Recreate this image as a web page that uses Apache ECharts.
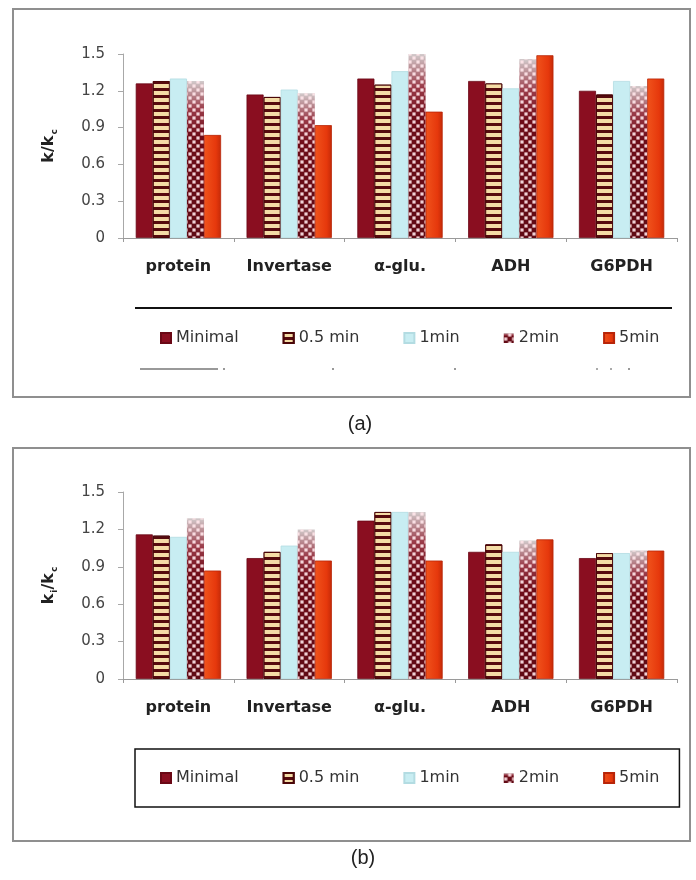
<!DOCTYPE html>
<html>
<head>
<meta charset="utf-8">
<script src="https://cdn.jsdelivr.net/npm/echarts@6/dist/echarts.min.js"></script>
<style>
  html, body { margin: 0; padding: 0; background: #fff; }
  #chart { width: 696px; height: 880px; }
</style>
</head>
<body>
<div id="chart"></div>
<script>
// Enzyme / protein categories and treatment times
const categories = ['protein', 'Invertase', 'α-glu.', 'ADH', 'G6PDH'];
const seriesNames = ['Minimal', '0.5 min', '1min', '2min', '5min'];

// Y axis scale shared by both panels
const yMin = 0;
const yMax = 1.5;
const yStep = 0.3;

// Panel (a): k/kc per category for each treatment
const aMinimal = [1.26, 1.17, 1.30, 1.28, 1.20];
const aHalfMin = [1.28, 1.15, 1.25, 1.26, 1.17];
const aOneMin  = [1.30, 1.21, 1.36, 1.22, 1.28];
const aTwoMin  = [1.28, 1.18, 1.50, 1.46, 1.24];
const aFiveMin = [0.84, 0.92, 1.03, 1.49, 1.30];

// Panel (b): ki/kc per category for each treatment
const bMinimal = [1.16, 0.97, 1.27, 1.02, 0.97];
const bHalfMin = [1.15, 1.02, 1.34, 1.08, 1.01];
const bOneMin  = [1.14, 1.07, 1.34, 1.02, 1.01];
const bTwoMin  = [1.29, 1.20, 1.34, 1.11, 1.03];
const bFiveMin = [0.87, 0.95, 0.95, 1.12, 1.03];

const chart = echarts.init(document.getElementById('chart'), null, { renderer: 'canvas' });
const G = echarts.graphic;

// Fill styles: solid maroon, striped, pale cyan, checkered with a faded top, orange-red
const barStyles = [
  { color: '#8a0e20', borderColor: '#6a0815', borderWidth: 0.8 },
  {
    color: '#560a0e', borderColor: '#4a0608', borderWidth: 1,
    decal: { symbol: 'rect', symbolSize: 1, color: '#f4dca6', dashArrayX: [8, 0], dashArrayY: [4, 3], rotation: 0 }
  },
  { color: '#c8edf2', borderColor: '#b3dce2', borderWidth: 0.8 },
  {
    color: new G.LinearGradient(0, 0, 0, 1, [
      { offset: 0, color: '#d2cbcc' },
      { offset: 0.18, color: '#9a3a48' },
      { offset: 0.35, color: '#6e0c18' },
      { offset: 1, color: '#600a14' }
    ]),
    decal: { symbol: 'rect', symbolSize: 0.8, color: 'rgba(255,230,234,0.9)', dashArrayX: [[4, 4], [0, 4, 4, 0]], dashArrayY: [4, 0] }
  },
  {
    color: new G.LinearGradient(0, 0, 1, 0, [
      { offset: 0, color: '#f0531c' },
      { offset: 0.7, color: '#e6380c' },
      { offset: 1, color: '#c42a08' }
    ]),
    borderColor: '#b82408', borderWidth: 0.8
  }
];

function buildSeries(axisIndex, columns) {
  return seriesNames.map((name, i) => ({
    type: 'bar',
    name: name,
    xAxisIndex: axisIndex,
    yAxisIndex: axisIndex,
    data: columns[i],
    barGap: '0%',
    barCategoryGap: '23%',
    itemStyle: barStyles[i],
    emphasis: { disabled: true }
  }));
}

function xAxisFor(gridIndex) {
  return {
    type: 'category',
    gridIndex: gridIndex,
    data: categories,
    axisLine: { lineStyle: { color: '#9a9a9a', width: 1 } },
    axisTick: { show: true, length: 4, lineStyle: { color: '#9a9a9a' } },
    axisLabel: {
      interval: 0,
      margin: 21,
      fontFamily: 'DejaVu Sans',
      fontWeight: 'bold',
      fontSize: 16,
      color: '#222'
    }
  };
}

function yAxisFor(gridIndex, nameRich) {
  return {
    type: 'value',
    gridIndex: gridIndex,
    min: yMin,
    max: yMax,
    interval: yStep,
    name: nameRich,
    nameLocation: 'middle',
    nameGap: 64,
    nameRotate: 90,
    nameTextStyle: {
      rich: {
        b: { fontFamily: 'DejaVu Sans', fontWeight: 'bold', fontSize: 16, color: '#222', lineHeight: 20 },
        s: { fontFamily: 'DejaVu Sans', fontWeight: 'bold', fontSize: 9, color: '#222', lineHeight: 20, verticalAlign: 'bottom', padding: [6, 0, 0, 1] }
      }
    },
    splitLine: { show: false },
    axisLine: { show: true, lineStyle: { color: '#a8a8a8', width: 1 } },
    axisTick: { show: true, length: 5, lineStyle: { color: '#a8a8a8' } },
    axisLabel: { margin: 18, fontFamily: 'DejaVu Sans', fontSize: 15, color: '#444' }
  };
}

const legendText = { fontFamily: 'DejaVu Sans', fontSize: 16, color: '#333' };

const option = {
  animation: false,
  backgroundColor: '#fff',
  grid: [
    { left: 123, right: 19, top: 54, bottom: 642 },
    { left: 123, right: 19, top: 492, bottom: 201 }
  ],
  xAxis: [xAxisFor(0), xAxisFor(1)],
  yAxis: [
    yAxisFor(0, '{b|k/k}{s|c}'),
    yAxisFor(1, '{b|k}{s|i}{b|/k}{s|c}')
  ],
  legend: [
    {
      data: seriesNames,
      icon: 'rect',
      left: 155,
      top: 325,
      itemWidth: 10,
      itemHeight: 10,
      itemGap: 44,
      selectedMode: false,
      textStyle: legendText
    },
    {
      data: seriesNames,
      icon: 'rect',
      left: 135,
      top: 749,
      padding: [21, 20, 21, 25],
      borderColor: '#111',
      borderWidth: 1.5,
      itemWidth: 10,
      itemHeight: 10,
      itemGap: 44,
      selectedMode: false,
      textStyle: legendText
    }
  ],
  graphic: [
    // panel frames
    { type: 'rect', shape: { x: 13, y: 9, width: 677, height: 388 }, style: { fill: 'none', stroke: '#8f8f8f', lineWidth: 2 }, silent: true },
    { type: 'rect', shape: { x: 13, y: 448, width: 677, height: 393 }, style: { fill: 'none', stroke: '#8f8f8f', lineWidth: 2 }, silent: true },
    // rule above the legend of panel (a)
    { type: 'line', shape: { x1: 135, y1: 308, x2: 672, y2: 308 }, style: { stroke: '#111', lineWidth: 2 }, silent: true },
    // remnants of the lower rule of panel (a)
    { type: 'line', shape: { x1: 140, y1: 369, x2: 218, y2: 369 }, style: { stroke: '#777', lineWidth: 1.5 }, silent: true },
    { type: 'rect', shape: { x: 223, y: 368, width: 2, height: 2 }, style: { fill: '#999' }, silent: true },
    { type: 'rect', shape: { x: 332, y: 368, width: 2, height: 2 }, style: { fill: '#999' }, silent: true },
    { type: 'rect', shape: { x: 454, y: 368, width: 2, height: 2 }, style: { fill: '#999' }, silent: true },
    { type: 'rect', shape: { x: 596, y: 368, width: 2, height: 2 }, style: { fill: '#aaa' }, silent: true },
    { type: 'rect', shape: { x: 610, y: 368, width: 2, height: 2 }, style: { fill: '#aaa' }, silent: true },
    { type: 'rect', shape: { x: 628, y: 368, width: 2, height: 2 }, style: { fill: '#999' }, silent: true },
    // panel captions
    { type: 'text', x: 360, y: 424, style: { text: '(a)', font: '20px "Liberation Sans"', fill: '#222', align: 'center', verticalAlign: 'middle' }, silent: true },
    { type: 'text', x: 363, y: 858, style: { text: '(b)', font: '20px "Liberation Sans"', fill: '#222', align: 'center', verticalAlign: 'middle' }, silent: true }
  ],
  series: [
    ...buildSeries(0, [aMinimal, aHalfMin, aOneMin, aTwoMin, aFiveMin]),
    ...buildSeries(1, [bMinimal, bHalfMin, bOneMin, bTwoMin, bFiveMin])
  ]
};

chart.setOption(option);
</script>
</body>
</html>
